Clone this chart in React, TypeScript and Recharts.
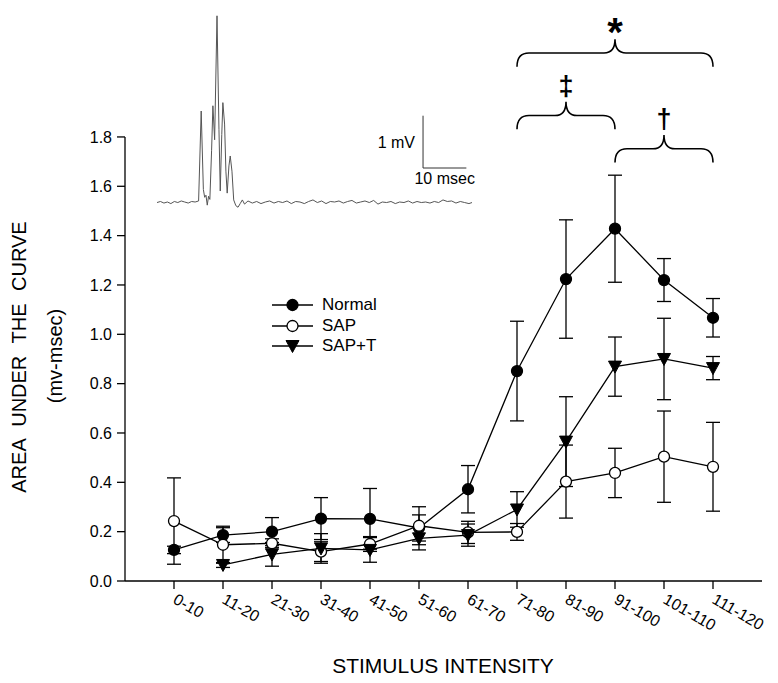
import React from "react";
import {
  LineChart,
  Line,
  XAxis,
  YAxis,
  ErrorBar,
  ReferenceLine,
  ReferenceArea,
  Legend,
} from "recharts";

const FONT = '"Liberation Sans", Arial, Helvetica, sans-serif';
const INK = "#000";

// stimulus intensity bins
const categories = [
  "0-10", "11-20", "21-30", "31-40", "41-50", "51-60",
  "61-70", "71-80", "81-90", "91-100", "101-110", "111-120",
];

// area under the curve (mv-msec), mean and SEM per group
const normal = [0.126, 0.186, 0.2, 0.253, 0.252, 0.215, 0.372, 0.851, 1.224, 1.428, 1.22, 1.067];
const normalSem = [0.015, 0.03, 0.057, 0.085, 0.123, 0.053, 0.096, 0.202, 0.24, 0.217, 0.087, 0.078];
const sap = [0.243, 0.147, 0.153, 0.119, 0.15, 0.224, 0.197, 0.199, 0.403, 0.438, 0.504, 0.463];
const sapSem = [0.175, 0.075, 0.018, 0.04, 0.03, 0.077, 0.045, 0.034, 0.148, 0.1, 0.185, 0.18];
const sapT = [null, 0.065, 0.108, 0.132, 0.126, 0.173, 0.186, 0.29, 0.565, 0.869, 0.9, 0.863];
const sapTSem = [null, 0.01, 0.048, 0.06, 0.05, 0.047, 0.045, 0.072, 0.182, 0.12, 0.165, 0.047];

const yTicks = [0, 0.2, 0.4, 0.6, 0.8, 1.0, 1.2, 1.4, 1.6, 1.8];

// significance braces (category index span, tip / curl level in y units)
const braceFrom = [7, 7, 9];
const braceTo = [11, 9, 11];
const braceTip = [2.196, 1.943, 1.808];
const braceEnd = [2.085, 1.831, 1.696];
const braceMark = ["*", "\u2021", "\u2020"];

// inset recording: time (msec) and voltage (mV)
const traceTime = [
  0, 0.8, 1.6, 2.4, 3.2, 4, 4.8, 5.6, 6.4, 7.2, 8, 8.8, 9.6,
  10.2, 10.7, 11.0, 11.3, 11.6, 11.9, 12.2, 12.6, 12.9, 13.3, 13.85, 14.3, 14.6, 14.95,
  15.2, 15.6, 15.9, 16.2, 16.6, 16.9, 17.3, 17.7, 18.2, 18.7, 19.2, 19.7, 20.2,
  21, 22, 23, 24, 25, 26, 27, 28, 29, 30, 31, 32, 33, 34, 35, 36, 37, 38, 39, 40,
  41, 42, 43, 44, 45, 46, 47, 48, 49, 50, 51, 52, 53, 54, 55, 56, 57, 58, 59, 60,
  61, 62, 63, 64, 65, 66, 67, 68, 69, 70, 71, 72, 72.7,
];
const traceMv = [
  0, 0.02, -0.01, 0.01, -0.02, 0.02, 0, 0.03, 0.01, -0.01, 0.02, 0.01, 0.03,
  1.75, 0.25, 0.1, 0.14, -0.05, 0.12, 0.06, 1.0, 1.85, 1.2, 3.57, 1.4, 0.22, 1.3,
  1.91, 1.5, 0.6, 0.18, 0.7, 0.89, 0.6, 0.05, -0.06, -0.09, -0.02, 0.05, -0.03,
  0.03, -0.01, 0.02, -0.02, 0.01, 0.03, -0.01, 0.02, 0, 0.03, -0.02, 0.02, 0.01, -0.02, 0.02, 0.05, 0, 0.03, -0.02, 0.02,
  0.01, 0.03, -0.01, 0.02, 0.04, -0.01, 0.01, 0.03, 0, 0.04, -0.03, 0.01, 0, 0.02, -0.02, 0.01, 0, 0.03, -0.01, 0.02,
  0, 0.01, -0.01, 0.02, 0, 0.05, 0.02, 0.03, -0.01, 0.02, 0, -0.02, 0,
];

const data = categories.map((label, i) => ({
  x: i,
  label,
  normal: normal[i],
  normalErr: normalSem[i],
  sap: sap[i],
  sapErr: sapSem[i],
  sapT: sapT[i],
  sapTErr: sapTSem[i],
}));

const traceData = traceTime.map((t, i) => ({ t, v: traceMv[i] }));

const series = [
  { key: "normal", err: "normalErr", name: "Normal", marker: "filled" },
  { key: "sap", err: "sapErr", name: "SAP", marker: "open" },
  { key: "sapT", err: "sapTErr", name: "SAP+T", marker: "triangle" },
];

const markStyle: Record<string, { size: number; dy: number }> = {
  "*": { size: 40, dy: 7 },
  "\u2021": { size: 27, dy: -7 },
  "\u2020": { size: 27, dy: -7 },
};

function Marker({ kind, cx, cy }: { kind: string; cx: number; cy: number }) {
  if (kind === "triangle") {
    return (
      <polygon
        points={`${cx - 6.5},${cy - 5.5} ${cx + 6.5},${cy - 5.5} ${cx},${cy + 6.5}`}
        fill={INK}
        stroke={INK}
        strokeWidth={1}
      />
    );
  }
  return (
    <circle
      cx={cx}
      cy={cy}
      r={5.5}
      fill={kind === "filled" ? INK : "#fff"}
      stroke={INK}
      strokeWidth={1.3}
    />
  );
}

function makeDot(kind: string) {
  return (p: any) => {
    if (p.cx == null || p.cy == null || p.value == null) return <g key={`${kind}-${p.index}`} />;
    return (
      <g key={`${kind}-${p.index}`}>
        <Marker kind={kind} cx={p.cx} cy={p.cy} />
      </g>
    );
  };
}

function XTick({ x, y, payload }: any) {
  return (
    <text
      x={x}
      y={y}
      transform={`rotate(30, ${x}, ${y})`}
      dx={4}
      dy={11}
      fontSize={16}
      fontFamily={FONT}
      fill={INK}
      textAnchor="start"
    >
      {categories[payload.value]}
    </text>
  );
}

function makeBrace(i: number) {
  return (p: any) => {
    const { x, y, width, height } = p;
    const x0 = x;
    const x1 = x + width;
    const xm = x + width / 2;
    const tip = y;
    const end = y + height;
    const mid = y + height / 2;
    const r = 12;
    const r2 = 11;
    const d = [
      `M ${x0} ${end}`,
      `Q ${x0} ${mid} ${x0 + r} ${mid}`,
      `L ${xm - r2} ${mid}`,
      `Q ${xm} ${mid} ${xm} ${tip}`,
      `Q ${xm} ${mid} ${xm + r2} ${mid}`,
      `L ${x1 - r} ${mid}`,
      `Q ${x1} ${mid} ${x1} ${end}`,
    ].join(" ");
    const mark = braceMark[i];
    const st = markStyle[mark];
    return (
      <g>
        <path d={d} fill="none" stroke={INK} strokeWidth={1.6} />
        <text
          x={xm}
          y={tip + st.dy}
          textAnchor="middle"
          fontSize={st.size}
          fontWeight="bold"
          fontFamily={FONT}
          fill={INK}
        >
          {mark}
        </text>
      </g>
    );
  };
}

function LegendBox() {
  return (
    <div style={{ fontFamily: FONT, fontSize: 17, color: INK }}>
      {series.map((s) => (
        <div key={s.key} style={{ display: "flex", alignItems: "center", height: 20.5 }}>
          <svg width={41} height={20} style={{ display: "block" }}>
            <line x1={0} y1={10} x2={41} y2={10} stroke={INK} strokeWidth={1.3} />
            <Marker kind={s.marker} cx={20.5} cy={10} />
          </svg>
          <span style={{ marginLeft: 9, lineHeight: "20px" }}>{s.name}</span>
        </div>
      ))}
    </div>
  );
}

const textDiv: React.CSSProperties = {
  position: "absolute",
  fontFamily: FONT,
  color: INK,
  whiteSpace: "nowrap",
  lineHeight: 1,
  transform: "translate(-50%, -50%)",
};

export default function App() {
  return (
    <div
      style={{
        position: "absolute",
        left: 0,
        top: 0,
        width: 778,
        height: 683,
        background: "#fff",
        overflow: "hidden",
      }}
    >
      <LineChart
        width={778}
        height={683}
        data={data}
        margin={{ top: 13.6, right: 16, left: 65, bottom: 42 }}
      >
        <XAxis
          dataKey="x"
          type="number"
          domain={[-1, 12]}
          ticks={[0, 1, 2, 3, 4, 5, 6, 7, 8, 9, 10, 11]}
          interval={0}
          height={60}
          tickSize={8}
          stroke={INK}
          strokeWidth={1.3}
          tickLine={{ stroke: INK, strokeWidth: 1.3 }}
          tick={<XTick />}
        />
        <YAxis
          type="number"
          domain={[0, 2.3]}
          ticks={yTicks}
          allowDataOverflow
          width={60}
          tickSize={8}
          tickMargin={5}
          axisLine={false}
          tickLine={{ stroke: INK, strokeWidth: 1.3 }}
          tick={{ fontSize: 16, fill: INK, fontFamily: FONT }}
          tickFormatter={(v: number) => v.toFixed(1)}
        />
        <ReferenceLine
          segment={[
            { x: -1, y: 0 },
            { x: -1, y: 1.8 },
          ]}
          stroke={INK}
          strokeWidth={1.3}
          ifOverflow="visible"
        />
        {braceFrom.map((from, i) => (
          <ReferenceArea
            key={`brace-${i}`}
            x1={from}
            x2={braceTo[i]}
            y1={braceEnd[i]}
            y2={braceTip[i]}
            ifOverflow="visible"
            shape={makeBrace(i)}
          />
        ))}
        {series.map((s) => (
          <Line
            key={s.key}
            dataKey={s.key}
            name={s.name}
            type="linear"
            stroke={INK}
            strokeWidth={1.3}
            dot={makeDot(s.marker)}
            activeDot={false}
            isAnimationActive={false}
          >
            <ErrorBar dataKey={s.err} width={7} stroke={INK} strokeWidth={1.3} isAnimationActive={false} />
          </Line>
        ))}
        <Legend
          layout="vertical"
          align="center"
          verticalAlign="middle"
          wrapperStyle={{ left: 272, top: 295, width: "auto", height: "auto" }}
          content={() => <LegendBox />}
        />
      </LineChart>

      <div style={{ position: "absolute", left: 156.7, top: 9.2 }}>
        <LineChart width={345} height={204} data={traceData} margin={{ top: 0, right: 30, left: 0, bottom: 0 }}>
          <XAxis dataKey="t" type="number" domain={[0, 72.7]} hide />
          <YAxis type="number" domain={[-0.2, 3.7]} hide />
          <Line
            dataKey="v"
            type="linear"
            stroke="#555"
            strokeWidth={1}
            dot={false}
            activeDot={false}
            isAnimationActive={false}
          />
          <ReferenceLine
            segment={[
              { x: 61.4, y: 0.66 },
              { x: 61.4, y: 1.66 },
            ]}
            stroke="#333"
            strokeWidth={1}
            ifOverflow="visible"
            label={{ value: "1 mV", position: "left", offset: 8, fontSize: 16, fill: INK, fontFamily: FONT }}
          />
          <ReferenceLine
            segment={[
              { x: 61.4, y: 0.66 },
              { x: 71.4, y: 0.66 },
            ]}
            stroke="#333"
            strokeWidth={1}
            ifOverflow="visible"
            label={{ value: "10 msec", position: "bottom", offset: 5, fontSize: 16, fill: INK, fontFamily: FONT }}
          />
        </LineChart>
      </div>

      <div style={{ ...textDiv, left: 19, top: 357, fontSize: 20, wordSpacing: 7, transform: "translate(-50%, -50%) rotate(-90deg)" }}>
        AREA UNDER THE CURVE
      </div>
      <div style={{ ...textDiv, left: 55, top: 356, fontSize: 20, transform: "translate(-50%, -50%) rotate(-90deg)" }}>
        (mv-msec)
      </div>
      <div style={{ ...textDiv, left: 443, top: 664.5, fontSize: 21 }}>STIMULUS INTENSITY</div>
    </div>
  );
}
